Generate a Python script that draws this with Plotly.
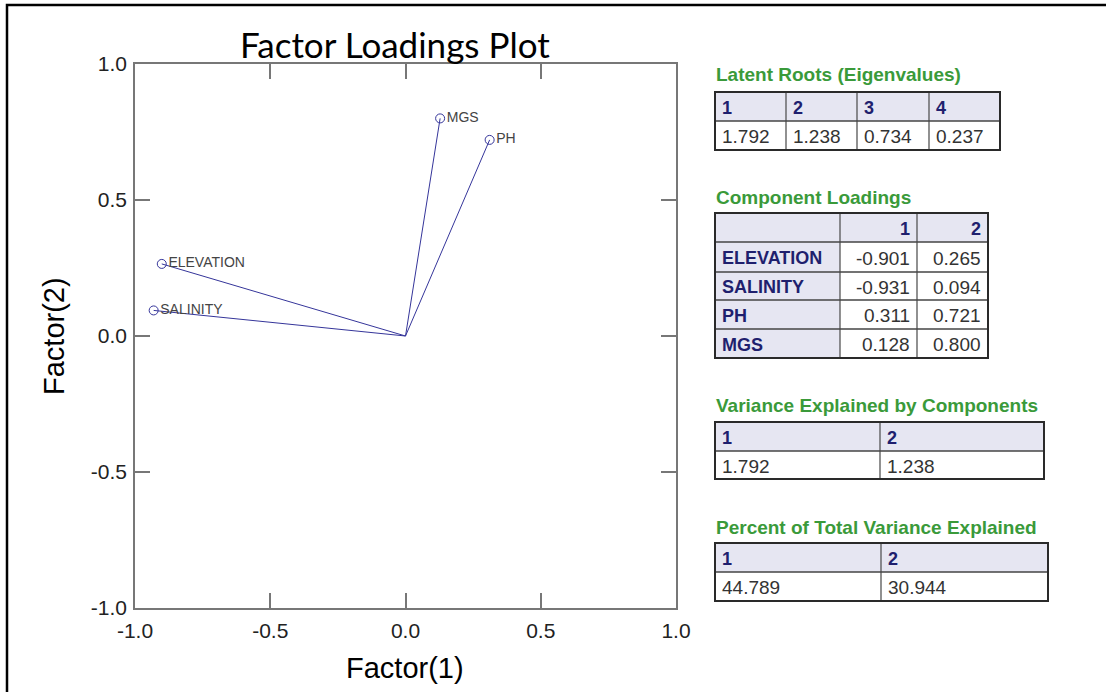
import plotly.graph_objects as go

# ---------------- data ----------------
variables = ["ELEVATION", "SALINITY", "PH", "MGS"]
factor1 = [-0.901, -0.931, 0.311, 0.128]
factor2 = [0.265, 0.094, 0.721, 0.800]

eig_headers = ["1", "2", "3", "4"]
eigenvalues = [1.792, 1.238, 0.734, 0.237]

loading_headers = ["", "1", "2"]

var_headers = ["1", "2"]
var_explained = [1.792, 1.238]

pct_headers = ["1", "2"]
pct_explained = [44.789, 30.944]

tick_vals = [-1.0, -0.5, 0.0, 0.5, 1.0]
tick_text = ["-1.0", "-0.5", "0.0", "0.5", "1.0"]

# ---------------- layout geometry (pixels) ----------------
W, H = 1106, 692
L, R, T, B = 135, 676, 64, 608


def px(x):
    return (x - L) / (R - L)


def py(y):
    return (B - y) / (B - T)


LINE_C = "#35359a"
GREEN = "#3a9a3a"
NAVY = "#1f1f6e"
VALC = "#333333"
HEAD_FILL = "#e6e6f2"
FONT = "Liberation Sans, Arial, sans-serif"

fig = go.Figure()

for name, x, y in zip(variables, factor1, factor2):
    fig.add_trace(go.Scatter(x=[0, x], y=[0, y], mode="lines",
                             line=dict(color=LINE_C, width=1),
                             hoverinfo="skip", showlegend=False))

fig.add_trace(go.Scatter(
    x=factor1, y=factor2, mode="markers+text", text=variables,
    textposition="middle right",
    textfont=dict(family=FONT, size=14, color="#444444"),
    marker=dict(symbol="circle-open", size=9, color=LINE_C, line=dict(width=1)),
    showlegend=False))

shapes = []
annotations = []

# outer frame (top and left visible)
shapes.append(dict(type="rect", xref="paper", yref="paper",
                   x0=px(7), x1=px(1300), y0=py(900), y1=py(5),
                   line=dict(color="black", width=2.5), layer="above"))

# title and axis titles
annotations.append(dict(text="Factor Loadings Plot", xref="paper", yref="paper",
                        x=px(238), y=py(44), xanchor="left", yanchor="middle",
                        showarrow=False,
                        font=dict(family="Lato, Open Sans, sans-serif", size=35, color="black")))
annotations.append(dict(text="Factor(1)", xref="paper", yref="paper",
                        x=px(405), y=py(668), xanchor="center", yanchor="middle",
                        showarrow=False, font=dict(family=FONT, size=29, color="black")))
annotations.append(dict(text="Factor(2)", xref="paper", yref="paper",
                        x=px(54), y=py(336), xanchor="center", yanchor="middle",
                        textangle=-90, showarrow=False,
                        font=dict(family=FONT, size=29, color="black")))


def draw_table(title, title_y, xe, ye, texts, fills, aligns, bolds):
    annotations.append(dict(text="<b>%s</b>" % title, xref="paper", yref="paper",
                            x=px(xe[0] - 1), y=py(title_y), xanchor="left", yanchor="middle",
                            showarrow=False, font=dict(family=FONT, size=19, color=GREEN)))
    nr, nc = len(ye) - 1, len(xe) - 1
    for r in range(nr):
        for c in range(nc):
            shapes.append(dict(type="rect", xref="paper", yref="paper",
                               x0=px(xe[c]), x1=px(xe[c + 1]),
                               y0=py(ye[r + 1]), y1=py(ye[r]),
                               fillcolor=fills[r][c], line=dict(width=0), layer="below"))
            txt = texts[r][c]
            if txt == "":
                continue
            if aligns[r][c] == "left":
                xx, xa = xe[c] + 5, "left"
            else:
                xx, xa = xe[c + 1] - 5, "right"
            annotations.append(dict(
                text=("<b>%s</b>" % txt) if bolds[r][c] else txt,
                xref="paper", yref="paper", x=px(xx), y=py((ye[r] + ye[r + 1]) / 2 + 1),
                xanchor=xa, yanchor="middle", showarrow=False,
                font=dict(family=FONT, size=18 if bolds[r][c] else 19,
                          color=NAVY if bolds[r][c] else VALC)))
    for xv in xe[1:-1]:
        shapes.append(dict(type="line", xref="paper", yref="paper",
                           x0=px(xv), x1=px(xv), y0=py(ye[-1]), y1=py(ye[0]),
                           line=dict(color="#555555", width=1.3), layer="above"))
    for yv in ye[1:-1]:
        shapes.append(dict(type="line", xref="paper", yref="paper",
                           x0=px(xe[0]), x1=px(xe[-1]), y0=py(yv), y1=py(yv),
                           line=dict(color="#444444", width=1.6), layer="above"))
    shapes.append(dict(type="rect", xref="paper", yref="paper",
                       x0=px(xe[0]), x1=px(xe[-1]), y0=py(ye[-1]), y1=py(ye[0]),
                       line=dict(color="#2a2a2a", width=2), layer="above"))


# Latent roots
draw_table("Latent Roots (Eigenvalues)", 74,
           [715, 786, 857, 929, 1000], [92, 121, 150],
           [eig_headers, ["%.3f" % v for v in eigenvalues]],
           [[HEAD_FILL] * 4, ["white"] * 4],
           [["left"] * 4, ["left"] * 4],
           [[True] * 4, [False] * 4])

# Component loadings
cl_texts = [loading_headers] + [[n, "%.3f" % a, "%.3f" % b]
                                for n, a, b in zip(variables, factor1, factor2)]
draw_table("Component Loadings", 197,
           [715, 840, 917, 988], [213, 242, 272, 300, 329, 358],
           cl_texts,
           [[HEAD_FILL] * 3] + [[HEAD_FILL, "white", "white"] for _ in variables],
           [["left", "right", "right"]] + [["left", "right", "right"] for _ in variables],
           [[True, True, True]] + [[True, False, False] for _ in variables])

# Variance explained
draw_table("Variance Explained by Components", 405,
           [715, 880, 1044], [422, 451, 479],
           [var_headers, ["%.3f" % v for v in var_explained]],
           [[HEAD_FILL] * 2, ["white"] * 2],
           [["left"] * 2, ["left"] * 2],
           [[True] * 2, [False] * 2])

# Percent of total variance
draw_table("Percent of Total Variance Explained", 527,
           [715, 881, 1048], [543, 572, 601],
           [pct_headers, ["%.3f" % v for v in pct_explained]],
           [[HEAD_FILL] * 2, ["white"] * 2],
           [["left"] * 2, ["left"] * 2],
           [[True] * 2, [False] * 2])

axis_common = dict(range=[-1, 1], tickvals=tick_vals, ticktext=tick_text,
                   showline=True, linecolor="#777777", linewidth=1.5, mirror="ticks",
                   ticks="inside", ticklen=15, tickwidth=1.5, tickcolor="#777777",
                   showgrid=False, zeroline=False,
                   tickfont=dict(family=FONT, size=21, color="#222222"))

fig.update_layout(
    width=W, height=H,
    margin=dict(l=L, r=W - R, t=T, b=H - B, pad=0),
    paper_bgcolor="white", plot_bgcolor="white",
    xaxis=dict(**axis_common, ticklabelstandoff=3),
    yaxis=dict(**axis_common, ticklabelstandoff=2),
    shapes=shapes, annotations=annotations,
    showlegend=False,
)

fig.write_html("out.html", config={"displayModeBar": False})

# remove default page margin so the figure sits at the window origin
with open("out.html", "r", encoding="utf-8") as f:
    html = f.read()
html = html.replace("<head>", "<head><style>html,body{margin:0;padding:0;overflow:hidden;}</style>", 1)
with open("out.html", "w", encoding="utf-8") as f:
    f.write(html)
